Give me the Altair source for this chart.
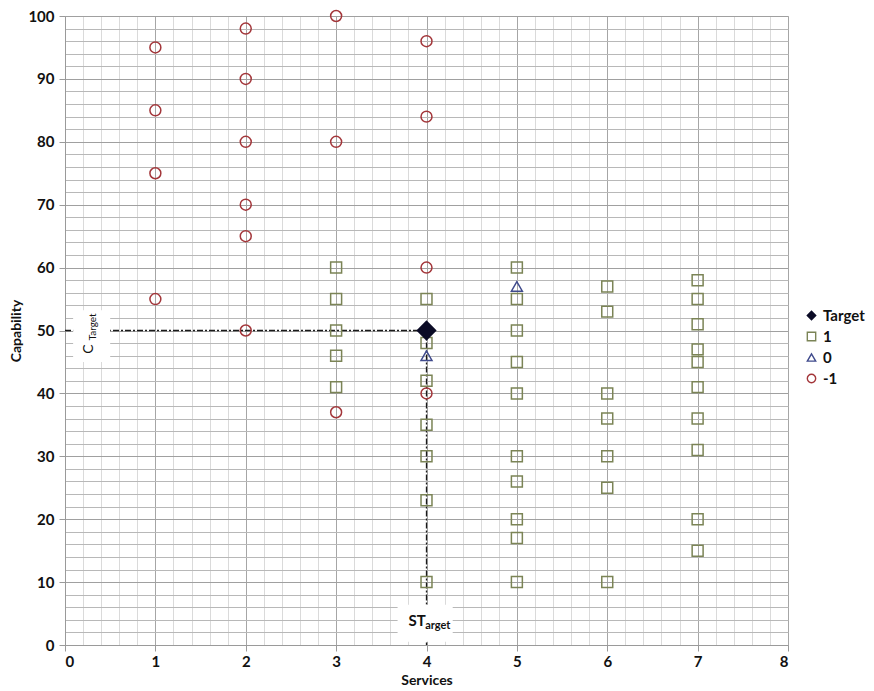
import altair as alt
import pandas as pd

# ---------------- data ----------------
series_order = ["Target", "1", "0", "-1"]

# series "1" (squares)
s1_services = [3, 3, 3, 3, 3,
               4, 4, 4, 4, 4, 4, 4,
               5, 5, 5, 5, 5, 5, 5, 5, 5, 5,
               6, 6, 6, 6, 6, 6, 6,
               7, 7, 7, 7, 7, 7, 7, 7, 7, 7]
s1_capability = [60, 55, 50, 46, 41,
                 55, 48, 42, 35, 30, 23, 10,
                 60, 55, 50, 45, 40, 30, 26, 20, 17, 10,
                 57, 53, 40, 36, 30, 25, 10,
                 58, 55, 51, 47, 45, 41, 36, 31, 20, 15]

# series "0" (triangles)
s0_services = [4, 5]
s0_capability = [46, 57]

# series "-1" (circles)
sm1_services = [1, 1, 1, 1,
                2, 2, 2, 2, 2, 2,
                3, 3, 3,
                4, 4, 4, 4]
sm1_capability = [95, 85, 75, 55,
                  98, 90, 80, 70, 65, 50,
                  100, 80, 37,
                  96, 84, 60, 40]

# target
target_services = [4]
target_capability = [50]

x_major_ticks = [0, 1, 2, 3, 4, 5, 6, 7, 8]
y_major_ticks = [0, 10, 20, 30, 40, 50, 60, 70, 80, 90, 100]
x_minor_ticks = [round(i * 0.2, 1) for i in range(41)]
y_minor_ticks = [i * 2 for i in range(51)]

rows = []
for name, xs_, ys_ in [("1", s1_services, s1_capability),
                       ("0", s0_services, s0_capability),
                       ("-1", sm1_services, sm1_capability)]:
    for xv, yv in zip(xs_, ys_):
        rows.append({"services": xv, "capability": yv, "series": name})
points_df = pd.DataFrame(rows)
target_df = pd.DataFrame({"services": target_services, "capability": target_capability,
                          "series": ["Target"] * len(target_services)})

# guide lines to the target
guide_df = pd.DataFrame({
    "x": [0, target_services[0]],
    "x2": [target_services[0], target_services[0]],
    "y": [target_capability[0], target_capability[0]],
    "y2": [target_capability[0], 0],
})

# white label boxes
box_df = pd.DataFrame({
    "x": [0.09, 3.68], "x2": [0.5, 4.29],
    "y": [45.0, 0.5], "y2": [53.2, 6.4],
})

FONT = "Lato"
X_DOM = [0, 8]
Y_DOM = [0, 100]

xs = alt.Scale(domain=X_DOM, nice=False, zero=False)
ys = alt.Scale(domain=Y_DOM, nice=False, zero=False)

minor_x_axis = alt.Axis(orient="top", values=x_minor_ticks, labels=False, ticks=False,
                        domain=False, title=None, grid=True, gridColor="#dadada", gridWidth=1)
minor_y_axis = alt.Axis(orient="right", values=y_minor_ticks, labels=False, ticks=False,
                        domain=False, title=None, grid=True, gridColor="#b8b8b8", gridWidth=1)

guides = alt.Chart(guide_df).mark_rule(
    color="#1a1a1a", strokeWidth=1.3, strokeDash=[6, 2, 2, 2]
).encode(
    x=alt.X("x:Q", scale=xs, axis=minor_x_axis),
    x2="x2:Q",
    y=alt.Y("y:Q", scale=ys, axis=minor_y_axis),
    y2="y2:Q",
)

boxes = alt.Chart(box_df).mark_rect(color="white").encode(
    x=alt.X("x:Q", scale=xs, axis=None),
    x2="x2:Q",
    y=alt.Y("y:Q", scale=ys, axis=None),
    y2="y2:Q",
)

def label(text, xv, yv, size, angle=0, weight="normal"):
    return alt.Chart(pd.DataFrame({"x": [xv], "y": [yv], "t": [text]})).mark_text(
        font=FONT, fontSize=size, color="#111111", align="left",
        baseline="alphabetic", angle=angle, fontWeight=weight
    ).encode(
        x=alt.X("x:Q", scale=xs, axis=None),
        y=alt.Y("y:Q", scale=ys, axis=None),
        text="t:N",
    )

c_main = label("C", 0.31, 46.3, 14, angle=270)
c_sub = label("Target", 0.345, 48.4, 10, angle=270)
st_main = label("ST", 3.80, 2.95, 15, weight="bold")
st_sub = label("arget", 3.985, 2.6, 11, weight="bold")

legend_spec = alt.Legend(
    title=None, orient="none", legendX=739, legendY=292,
    labelFont=FONT, labelFontWeight="bold", labelFontSize=15, labelColor="#111111",
    symbolSize=70, symbolStrokeWidth=1.4, rowPadding=5, labelOffset=4,
)

main_x_axis = alt.Axis(orient="bottom", values=x_major_ticks, title="Services",
                       labelFont=FONT, labelFontWeight="bold", labelFontSize=15,
                       labelColor="#111111", titleFont=FONT, titleFontWeight="bold",
                       titleFontSize=14, titleColor="#111111", titlePadding=4,
                       grid=True, gridColor="#a6a6a6", gridWidth=1,
                       domainColor="#9a9a9a", tickColor="#9a9a9a", tickSize=6,
                       labelPadding=3, format="d")
main_y_axis = alt.Axis(orient="left", values=y_major_ticks, title="Capability",
                       labelFont=FONT, labelFontWeight="bold", labelFontSize=15,
                       labelColor="#111111", titleFont=FONT, titleFontWeight="bold",
                       titleFontSize=14, titleColor="#111111", titlePadding=4,
                       grid=True, gridColor="#a0a0a0", gridWidth=1,
                       domainColor="#9a9a9a", tickColor="#9a9a9a", tickSize=6,
                       labelPadding=5, format="d")

color_enc = alt.Color("series:N", scale=alt.Scale(
    domain=series_order, range=["#0b0b26", "#7b8456", "#3f4a8c", "#a3363a"]),
    legend=legend_spec)
shape_enc = alt.Shape("series:N", scale=alt.Scale(
    domain=series_order, range=["diamond", "square", "triangle-up", "circle"]),
    legend=legend_spec)
fill_enc = alt.Fill("series:N", scale=alt.Scale(
    domain=series_order, range=["#0b0b26", "transparent", "transparent", "transparent"]),
    legend=legend_spec)

points = alt.Chart(points_df).mark_point(filled=False, strokeWidth=1.5, opacity=1, size=120).encode(
    x=alt.X("services:Q", scale=xs, axis=main_x_axis),
    y=alt.Y("capability:Q", scale=ys, axis=main_y_axis),
    color=color_enc, shape=shape_enc, fill=fill_enc,
)

target = alt.Chart(target_df).mark_point(filled=False, strokeWidth=1.5, opacity=1, size=330).encode(
    x=alt.X("services:Q", scale=xs, axis=None),
    y=alt.Y("capability:Q", scale=ys, axis=None),
    color=color_enc, shape=shape_enc, fill=fill_enc,
)

chart = alt.layer(guides, boxes, c_main, c_sub, st_main, st_sub, points, target).resolve_axis(
    x="independent", y="independent"
).properties(
    width=723, height=629,
    autosize=alt.AutoSizeParams(type="none"),
    padding={"left": 65, "top": 16, "right": 86, "bottom": 46},
    background="white",
).configure_view(stroke=None)

chart.save("out.html", embed_options={"renderer": "svg", "actions": False})
